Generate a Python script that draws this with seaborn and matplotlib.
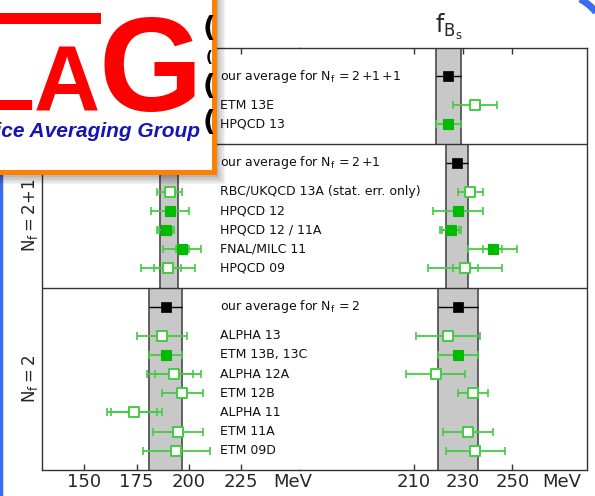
import numpy as np
import pandas as pd
import matplotlib
matplotlib.use("Agg")
import matplotlib.pyplot as plt
import seaborn as sns
from matplotlib.patches import Rectangle
from matplotlib.lines import Line2D

# ---------------- data (MeV) ----------------
names = ["ETM 13E", "HPQCD 13",
         "RBC/UKQCD 13A (stat. err. only)", "HPQCD 12", "HPQCD 12 / 11A",
         "FNAL/MILC 11", "HPQCD 09",
         "ALPHA 13", "ETM 13B, 13C", "ALPHA 12A", "ETM 12B", "ALPHA 11",
         "ETM 11A", "ETM 09D"]
nf_group = ["2+1+1", "2+1+1",
            "2+1", "2+1", "2+1", "2+1", "2+1",
            "2", "2", "2", "2", "2", "2", "2"]
filled = [False, True,
          False, True, True, True, False,
          False, True, False, False, False, False, False]

fB = [196, 186, 191, 191, 189, 196.9, 190, 187, 189, 193, 197, 174, 195, 194]
fB_err = [9, 4, 6, 9, 4, 9.1, 13, 12, 8, 13, 10, 13, 12, 16]
fB_stat = [np.nan, np.nan, np.nan, np.nan, 3, 3.2, 6.5,
           np.nan, np.nan, 9, np.nan, 11, np.nan, np.nan]

fBs = [235, 224, 233, 228, 225, 242.0, 231, 224, 228, 219, 234, np.nan, 232, 235]
fBs_err = [9, 5, 5, 10, 4.2, 10, 15, 13, 8, 12, 6, np.nan, 10, 12]
fBs_stat = [np.nan, np.nan, np.nan, np.nan, 3.4, 3.7, 5,
            np.nan, np.nan, np.nan, np.nan, np.nan, np.nan, np.nan]

groups = ["2+1+1", "2+1", "2"]
avg_fB = [186, 190.5, 189]
avg_fB_err = [4, 4.2, 8]
avg_fBs = [224, 227.7, 228]
avg_fBs_err = [5, 4.5, 8]

fB_ticks = [150, 175, 200, 225]
fBs_ticks = [210, 230, 250]

# ---------------- layout of rows ----------------
# sections are stacked bottom-up: Nf=2, Nf=2+1, Nf=2+1+1
row_y = {}
sec_bounds = {}
sec_avg_y = {}
bottom = 0.0
for g, top_pad in zip(["2", "2+1", "2+1+1"], [1.0, 1.0, 1.5]):
    members = [n for n, gg in zip(names, nf_group) if gg == g]
    for k, n in enumerate(reversed(members)):
        row_y[n] = bottom + 1 + k
    sec_avg_y[g] = bottom + len(members) + 1.5
    top = sec_avg_y[g] + top_pad
    sec_bounds[g] = (bottom, top)
    bottom = top

df = pd.DataFrame({"name": names, "nf": nf_group, "filled": filled,
                   "fB": fB, "fB_err": fB_err, "fB_stat": fB_stat,
                   "fBs": fBs, "fBs_err": fBs_err, "fBs_stat": fBs_stat})
df["y"] = df["name"].map(row_y)
avg = pd.DataFrame({"nf": groups, "fB": avg_fB, "fB_err": avg_fB_err,
                    "fBs": avg_fBs, "fBs_err": avg_fBs_err})
avg["y"] = avg["nf"].map(sec_avg_y)

# ---------------- style ----------------
sns.set_style("ticks")
plt.rcParams["font.family"] = ["DejaVu Sans"]
plt.rcParams["mathtext.fontset"] = "dejavusans"

GREEN = "#00bb00"
GREEN_BAR = "#44cc44"
BAND = "#c8c8c8"
BAND_EDGE = "#555555"
FRAME = "#333333"

W, H = 595, 496
fig = plt.figure(figsize=(W / 100, H / 100), dpi=100)
fig.patch.set_facecolor("white")


def fx(px):
    return px / W


def fy(py):
    return 1 - py / H


L, R, T, B, S = 41.7, 587, 47.7, 470, 300
ax1 = fig.add_axes([fx(L), fy(B), fx(S) - fx(L), fy(T) - fy(B)])
ax2 = fig.add_axes([fx(S), fy(B), fx(R) - fx(S), fy(T) - fy(B)])

ax1.set_xlim(129.6, 253.3)
ax2.set_xlim(163.9, 280.3)
ymax = max(b[1] for b in sec_bounds.values())


def draw_panel(ax, col, err_col, stat_col, acol, aerr_col):
    ax.set_ylim(0, ymax)
    ax.patch.set_visible(False)
    # averages as grey bands
    for _, r in avg.iterrows():
        y0, y1 = sec_bounds[r["nf"]]
        lo, hi = r[acol] - r[aerr_col], r[acol] + r[aerr_col]
        ax.fill_betweenx([y0, y1], lo, hi, color=BAND, lw=0, zorder=1)
        ax.vlines([lo, hi], y0, y1, color=BAND_EDGE, lw=1.3, zorder=2)
    ax.errorbar(avg[acol], avg["y"], xerr=avg[aerr_col], fmt="none",
                ecolor="black", elinewidth=1.0, capsize=0, zorder=3)
    sns.scatterplot(data=avg, x=acol, y="y", marker="s", s=60, color="black",
                    edgecolor="black", linewidth=0.5, ax=ax, zorder=5,
                    legend=False)
    d = df.dropna(subset=[col])
    ax.errorbar(d[col], d["y"], xerr=d[err_col], fmt="none", ecolor=GREEN_BAR,
                elinewidth=1.3, capsize=3.2, capthick=1.2, zorder=3)
    ds = d.dropna(subset=[stat_col])
    ax.errorbar(ds[col], ds["y"], xerr=ds[stat_col], fmt="none",
                ecolor=GREEN_BAR, elinewidth=1.3, capsize=3.2, capthick=1.2,
                zorder=3)
    sns.scatterplot(data=d[d["filled"]], x=col, y="y", marker="s", s=62,
                    color=GREEN, edgecolor=GREEN, linewidth=0.8, ax=ax,
                    zorder=5, legend=False)
    sns.scatterplot(data=d[~d["filled"]], x=col, y="y", marker="s", s=58,
                    color="white", edgecolor=GREEN_BAR, linewidth=1.4, ax=ax,
                    zorder=5, legend=False)
    for g in ["2", "2+1"]:
        ax.axhline(sec_bounds[g][1], color=FRAME, lw=1.0, zorder=4)
    ax.set_xlabel("")
    ax.set_ylabel("")
    ax.set_yticks([])
    ax.tick_params(axis="x", direction="in", top=True, bottom=True,
                   length=4, width=1.0, color=FRAME, labelsize=13, pad=2)
    for sp in ax.spines.values():
        sp.set_color(FRAME)
        sp.set_linewidth(1.0)


draw_panel(ax1, "fB", "fB_err", "fB_stat", "fB", "fB_err")
draw_panel(ax2, "fBs", "fBs_err", "fBs_stat", "fBs", "fBs_err")
ax1.spines["right"].set_visible(False)
ax2.spines["left"].set_visible(False)

ax1.set_xticks(fB_ticks + [250], [str(t) for t in fB_ticks] + ["MeV"])
ax2.set_xticks(fBs_ticks + [270], [str(t) for t in fBs_ticks] + ["MeV"])
for ax in (ax1, ax2):
    last = ax.xaxis.get_major_ticks()[-1]
    last.tick1line.set_visible(False)
    last.tick2line.set_visible(False)

# collaboration labels
lab_tr = ax1.get_yaxis_transform()
for _, r in df.iterrows():
    ax1.text(0.69, r["y"], r["name"], transform=lab_tr, ha="left",
             va="center", fontsize=9, color="#111111", clip_on=False, zorder=6)
for _, r in avg.iterrows():
    nf_txt = r["nf"].replace("+", "\\,{+}")
    ax1.text(0.69, r["y"],
             "our average for $\\mathrm{N_f\\,{=}" + nf_txt + "}$",
             transform=lab_tr, ha="left", va="center", fontsize=9,
             color="#111111", clip_on=False, zorder=6)

# Nf section labels
for g in ["2+1", "2"]:
    y0, y1 = sec_bounds[g]
    nf_txt = g.replace("+", "{+}")
    ax1.text(-0.045, (y0 + y1) / 2, "$\\mathrm{N_f{=}" + nf_txt + "}$",
             transform=lab_tr, rotation=90, ha="center", va="center",
             fontsize=12, clip_on=False)

fig.text(fx(449), fy(33), "$\\mathrm{f_{B_s}}$", ha="center", va="baseline",
         fontsize=17)

# ---------------- FLAG logo and page frame ----------------
inch = fig.dpi_scale_trans


def box_px(x0, y0, x1, y1, **kw):
    return Rectangle((x0 / 100, (H - y1) / 100), (x1 - x0) / 100,
                     (y1 - y0) / 100, transform=inch, **kw)


# blue rounded page frame: left edge and top-right corner
BLUE = "#3b6cf0"
fig.lines.append(Line2D([fx(0.5), fx(0.5)], [fy(150), fy(H + 5)],
                        transform=fig.transFigure, color=BLUE, lw=2.5,
                        zorder=20))
theta = np.linspace(0, np.pi / 2, 60)
cx, cy, rad = 553, 48, 56
fig.lines.append(Line2D(fx(cx + rad * np.cos(theta)),
                        fy(cy - rad * np.sin(theta)),
                        transform=fig.transFigure, color=BLUE, lw=5,
                        solid_capstyle="butt", zorder=20))

# soft shadow
for i in range(7):
    fig.patches.append(box_px(-20, -20, 216 + i * 1.5, 175 + i * 1.5,
                              facecolor="black", edgecolor="none",
                              alpha=0.05, zorder=21))
fig.patches.append(box_px(-20, -20, 213.5, 172, facecolor="white",
                          edgecolor="#ff8000", lw=3.6, zorder=22))
fig.patches.append(box_px(-10, 13, 101, 24, facecolor="#ff0000",
                          edgecolor="none", zorder=23))
fig.text(fx(101), fy(110), "LA", ha="right", va="baseline", fontsize=66,
         fontweight="bold", family="Liberation Sans", color="#ff0000",
         zorder=24)
fig.text(fx(98), fy(111), "G", ha="left", va="baseline", fontsize=96,
         fontweight="bold", family="Liberation Sans", color="#ff0000",
         zorder=24)
fig.text(fx(200), fy(137), "Flavour Lattice Averaging Group", ha="right",
         va="baseline", fontsize=15, fontweight="bold", style="italic",
         family="Liberation Sans", color="#1515b5", zorder=24)
for yc, fs in [(29, 20), (57, 11), (87, 20), (123, 20)]:
    fig.text(fx(209), fy(yc), "(", ha="center", va="center", fontsize=fs,
             fontweight="bold", color="black", zorder=24)

fig.savefig("out.png", dpi=100)
